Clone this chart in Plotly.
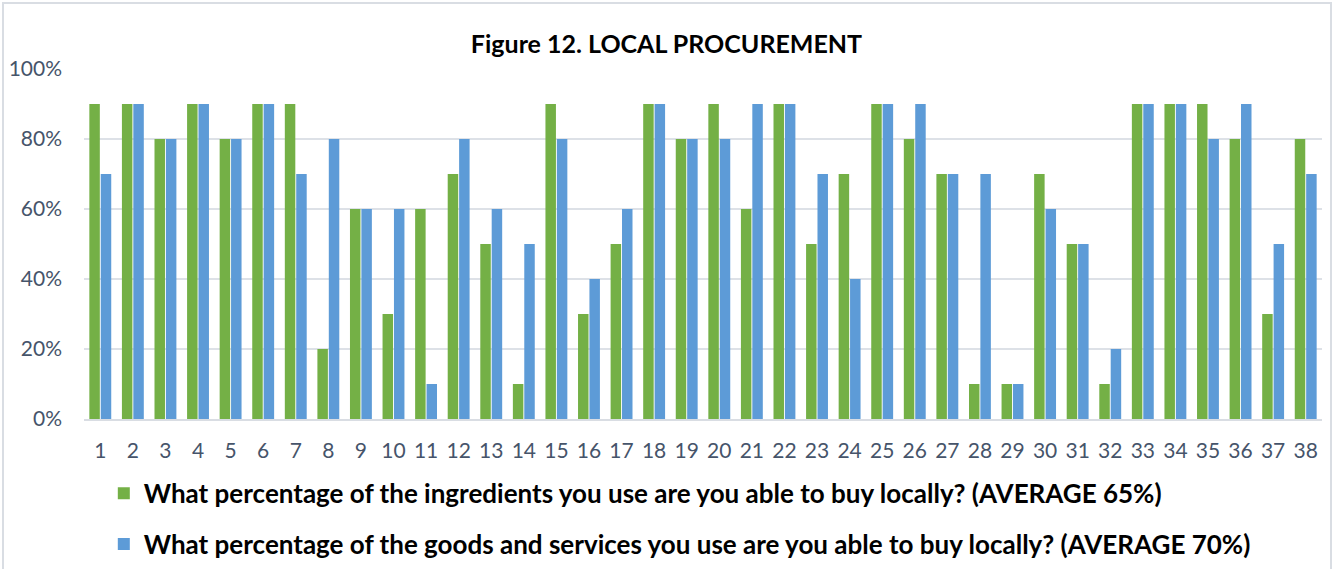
import plotly.graph_objects as go

categories = [str(i) for i in range(1, 39)]
ingredients = [90, 90, 80, 90, 80, 90, 90, 20, 60, 30, 60, 70, 50, 10, 90, 30, 50, 90, 80, 90,
               60, 90, 50, 70, 90, 80, 70, 10, 10, 70, 50, 10, 90, 90, 90, 80, 30, 80]
goods = [70, 90, 80, 90, 80, 90, 70, 80, 60, 60, 10, 80, 60, 50, 80, 40, 60, 90, 80, 80,
         90, 90, 70, 40, 90, 90, 70, 70, 10, 60, 50, 20, 90, 90, 80, 90, 50, 70]
name1 = "What percentage of the ingredients you use are you able to buy locally? (AVERAGE 65%)"
name2 = "What percentage of the goods and services you use are you able to buy locally? (AVERAGE 70%)"
y_ticks = [0, 20, 40, 60, 80, 100]

W, H = 1333, 569
ml, mr, mt, mb = 84, 11, 69, 150
pw, ph = W - ml - mr, H - mt - mb

fig = go.Figure()
fig.add_trace(go.Bar(x=categories, y=ingredients, name=f"<b>{name1}</b>", legendgroup="a",
                     marker=dict(color="#74b046", line=dict(width=0))))
fig.add_trace(go.Bar(x=categories, y=goods, name=f"<b>{name2}</b>", legendgroup="b",
                     marker=dict(color="#5d9bd7", line=dict(width=0))))

font_fam = "Lato, 'Open Sans', sans-serif"
fig.update_layout(
    width=W, height=H,
    margin=dict(l=ml, r=mr, t=mt, b=mb, autoexpand=False),
    paper_bgcolor="white", plot_bgcolor="white",
    barmode="group", bargap=0.3, bargroupgap=0.08,
    title=dict(text="<b>Figure 12. LOCAL PROCUREMENT</b>", x=0.5, xanchor="center",
               y=1 - 44 / H, yanchor="middle",
               font=dict(family=font_fam, size=25, color="black")),
    font=dict(family=font_fam),
    xaxis=dict(type="category", showgrid=False, showline=True, linecolor="#d9dde3", linewidth=2,
               ticks="", tickfont=dict(size=21, color="#46546a"), ticklabelstandoff=12,
               automargin=False),
    yaxis=dict(range=[0, 100], tickvals=y_ticks, ticktext=[f"{v}%" for v in y_ticks],
               showgrid=True, gridcolor="#dde1e7", gridwidth=2, zeroline=False,
               tickfont=dict(size=21, color="#46546a"), ticklabelstandoff=21,
               automargin=False),
    legend=dict(orientation="v", x=0.016, xanchor="left", y=-0.145, yanchor="top",
                font=dict(family=font_fam, size=26, color="black"),
                tracegroupgap=14, bgcolor="rgba(0,0,0,0)"),
    showlegend=True,
)
fig.add_shape(type="rect", xref="paper", yref="paper",
              x0=-(ml - 3) / pw, x1=1 + (mr - 2) / pw, y0=-(mb + 5) / ph, y1=1 + (mt - 3) / ph,
              line=dict(color="#d9dde3", width=2), fillcolor="rgba(0,0,0,0)", layer="below")

fig.write_html("out.html", config={"displayModeBar": False},
               post_script="document.body.style.margin='0';")
